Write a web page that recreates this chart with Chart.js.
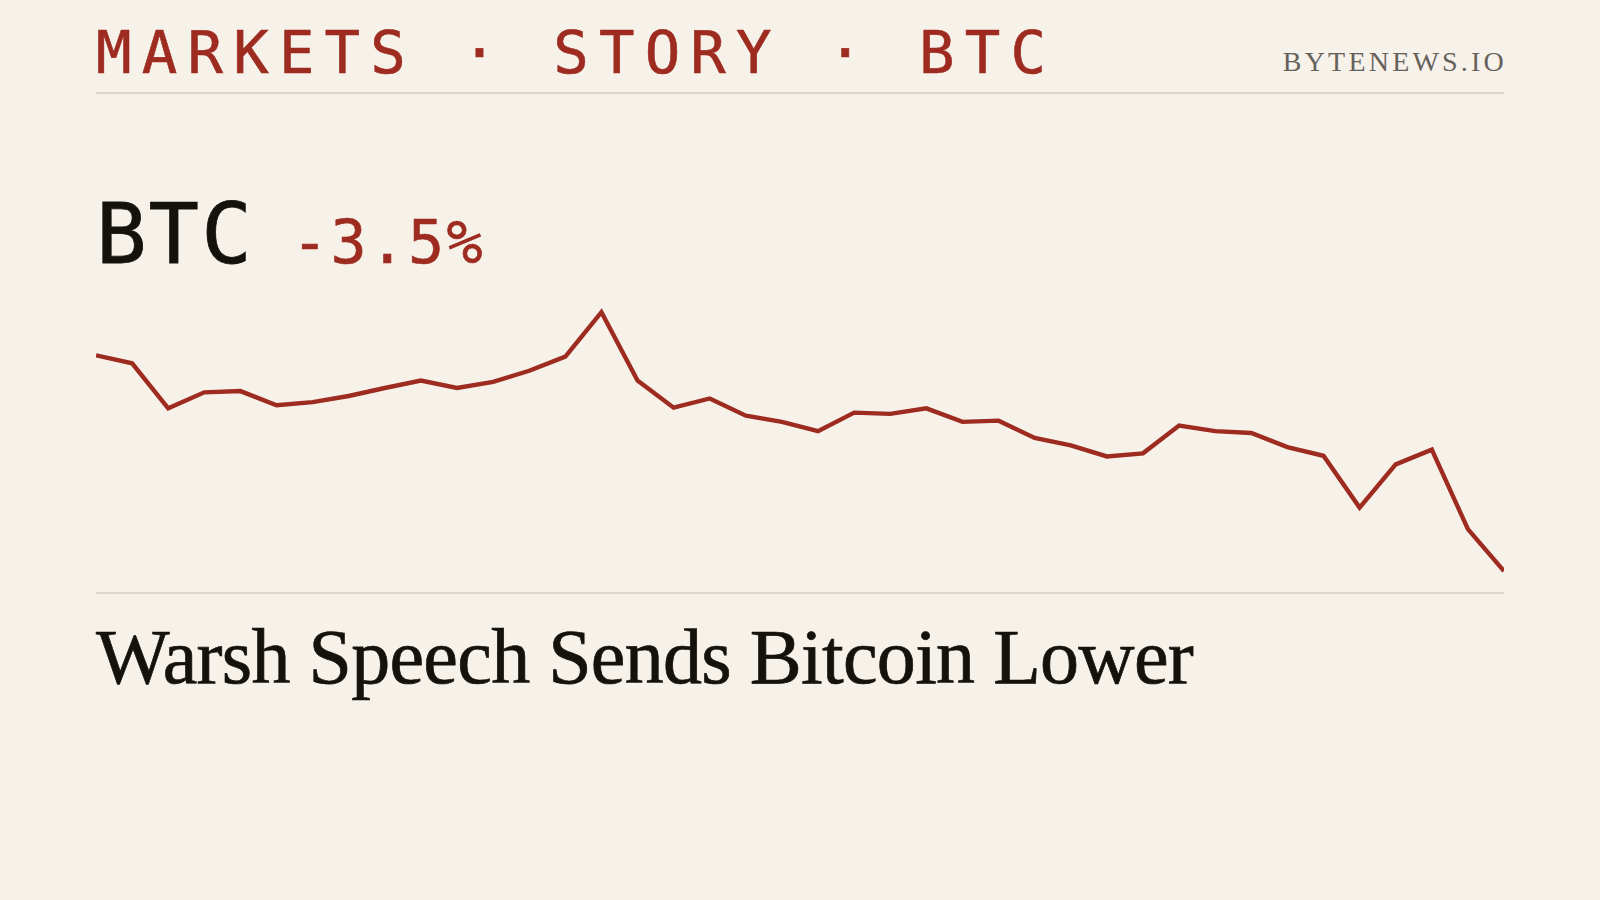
<!DOCTYPE html>
<html>
<head>
<meta charset="utf-8">
<script src="https://cdn.jsdelivr.net/npm/chart.js@4"></script>
<style>
  html, body { margin:0; padding:0; }
  body { width:1600px; height:900px; background:#f6f2ea; position:relative; overflow:hidden; }
  .kicker { position:absolute; left:96px; top:23px; font-family:"DejaVu Sans Mono", monospace; font-size:59px; line-height:1; letter-spacing:10.2px; color:#9e2b20; white-space:pre; -webkit-text-stroke:0.6px #9e2b20; }
  .brand { position:absolute; right:93px; top:48px; font-family:"Liberation Serif", serif; font-size:28px; line-height:1; letter-spacing:3.2px; color:#66615a; }
  .rule { position:absolute; left:96px; width:1408px; height:2px; background:#ddd6cb; }
  .ticker { position:absolute; left:96px; top:192px; font-family:"DejaVu Sans Mono", monospace; font-size:84px; line-height:1; letter-spacing:2px; color:#15120e; white-space:pre; -webkit-text-stroke:0.8px #15120e; }
  .ticker .chg { font-size:60px; letter-spacing:2.6px; color:#9e2b20; margin-left:38px; -webkit-text-stroke:0.6px #9e2b20; }
  .chartbox { position:absolute; left:96px; top:290px; width:1408px; height:302px; }
  .headline { position:absolute; left:96px; top:618px; font-family:"Liberation Serif", serif; font-size:78px; line-height:1; letter-spacing:-0.72px; color:#15120e; white-space:pre; -webkit-text-stroke:0.7px #15120e; }
</style>
</head>
<body>
<div class="kicker">MARKETS · STORY · BTC</div>
<div class="brand">BYTENEWS.IO</div>
<div class="rule" style="top:92px"></div>
<div class="ticker">BTC<span class="chg">-3.5%</span></div>
<div class="chartbox"><canvas id="c"></canvas></div>
<div class="rule" style="top:592px"></div>
<div class="headline">Warsh Speech Sends Bitcoin Lower</div>
<script>
// Percent change from the first reading (BTC)
const labels = Array.from({length: 40}, (_, i) => "T" + (i + 1));
const pctChange = [
  0.00, -0.13, -0.86, -0.60, -0.58, -0.81, -0.76, -0.66, -0.53, -0.41,
  -0.53, -0.43, -0.25, -0.02, 0.70, -0.41, -0.85, -0.70, -0.98, -1.08,
  -1.23, -0.93, -0.95, -0.86, -1.08, -1.06, -1.34, -1.46, -1.64, -1.59,
  -1.14, -1.23, -1.26, -1.49, -1.63, -2.47, -1.77, -1.53, -2.82, -3.50
];
const yMin = -3.84;
const yMax = 1.06;

new Chart(document.getElementById('c'), {
  type: 'line',
  data: {
    labels: labels,
    datasets: [{
      data: pctChange,
      borderColor: '#9e2b20',
      borderWidth: 4.4,
      pointRadius: 0,
      tension: 0,
      fill: false,
      clip: false
    }]
  },
  options: {
    responsive: true,
    maintainAspectRatio: false,
    animation: false,
    layout: { padding: 0 },
    plugins: { legend: { display: false }, tooltip: { enabled: false } },
    scales: {
      x: { display: false, offset: false },
      y: { display: false, min: yMin, max: yMax }
    }
  }
});
</script>
</body>
</html>
